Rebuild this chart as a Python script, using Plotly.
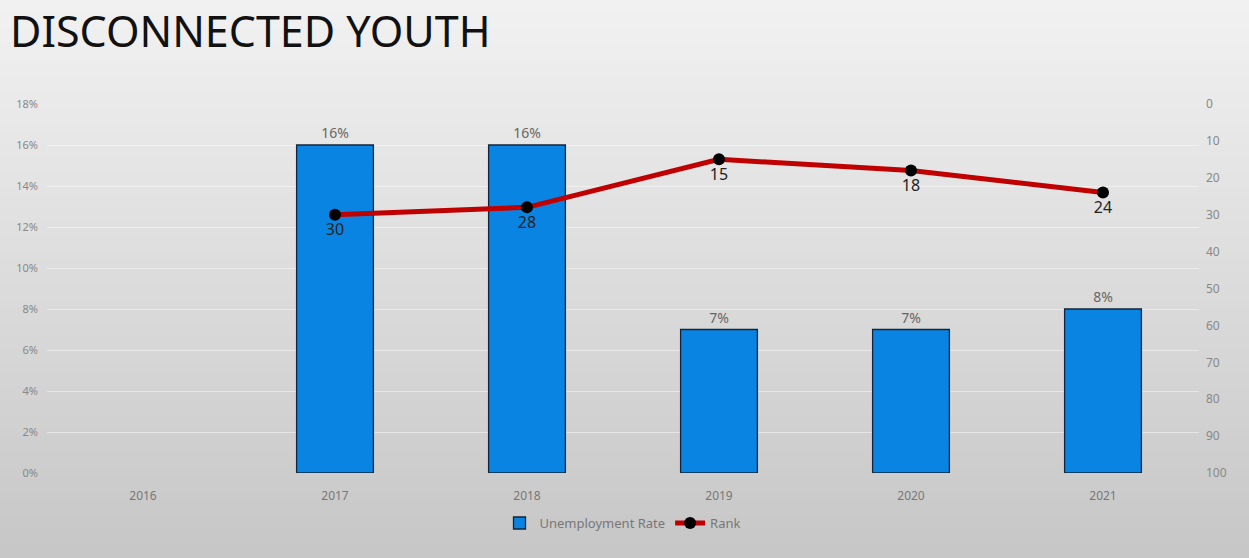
import plotly.graph_objects as go

years = ["2016", "2017", "2018", "2019", "2020", "2021"]
unemployment = [None, 16, 16, 7, 7, 8]
rank = [None, 30, 28, 15, 18, 24]
title = "DISCONNECTED YOUTH"

FONT = "Noto Sans"

fig = go.Figure()

fig.add_trace(go.Bar(
    x=years, y=unemployment, name="Unemployment Rate",
    marker=dict(color="#0a84e2", line=dict(color="#14243a", width=1.3)),
    width=0.4,
    text=[f"{v}%" if v is not None else "" for v in unemployment],
    textposition="outside", textfont=dict(color="#666666", size=14, family=FONT),
    cliponaxis=False,
))

fig.add_trace(go.Scatter(
    x=years, y=rank, name="Rank", yaxis="y2", mode="lines+markers+text",
    line=dict(color="#c00000", width=5),
    marker=dict(color="#000000", size=12),
    text=[str(v) if v is not None else "" for v in rank],
    textposition="bottom center", textfont=dict(color="#222222", size=16, family=FONT),
    connectgaps=False, cliponaxis=False,
))

# gradient background
shapes = []
n = 80
top = (242, 242, 242)
bot = (198, 198, 198)
for i in range(n):
    t = i / (n - 1)
    c = tuple(int(round(top[k] + (bot[k] - top[k]) * t)) for k in range(3))
    shapes.append(dict(type="rect", xref="paper", yref="paper",
                       x0=-1, x1=2, y0=1.3 - (i + 1) * 1.55 / n, y1=1.3 - i * 1.55 / n + 0.002,
                       fillcolor=f"rgb{c}", line=dict(width=0), layer="below"))

fig.update_layout(
    width=1249, height=558,
    margin=dict(l=47, r=50, t=104, b=85),
    paper_bgcolor="#dcdcdc", plot_bgcolor="rgba(0,0,0,0)",
    shapes=shapes,
    showlegend=True,
    legend=dict(orientation="h", x=0.5, xanchor="center", y=-0.095, yanchor="top",
                font=dict(color="#777777", size=13, family=FONT),
                bgcolor="rgba(0,0,0,0)", itemwidth=30),
    xaxis=dict(type="category", showgrid=False, showline=False, ticks="outside", ticklen=12,
               tickcolor="rgba(0,0,0,0)",
               tickfont=dict(color="#777777", size=12, family=FONT)),
    yaxis=dict(range=[0, 18], dtick=2, ticksuffix="%", showgrid=True, gridcolor="rgba(255,255,255,0.45)",
               zeroline=False, tickfont=dict(color="#888888", size=11, family=FONT), ticklabelstandoff=8),
    yaxis2=dict(range=[100, 0], dtick=10, overlaying="y", side="right", showgrid=False, zeroline=False,
                tickfont=dict(color="#888888", size=12, family=FONT), ticklabelstandoff=6),
    annotations=[dict(text=title, xref="paper", yref="paper", x=-0.034, y=1.2, xanchor="left", yanchor="middle",
                      showarrow=False, font=dict(size=43, color="#111111", family=FONT))],
    bargap=0.6,
)

fig.write_html("out.html")
